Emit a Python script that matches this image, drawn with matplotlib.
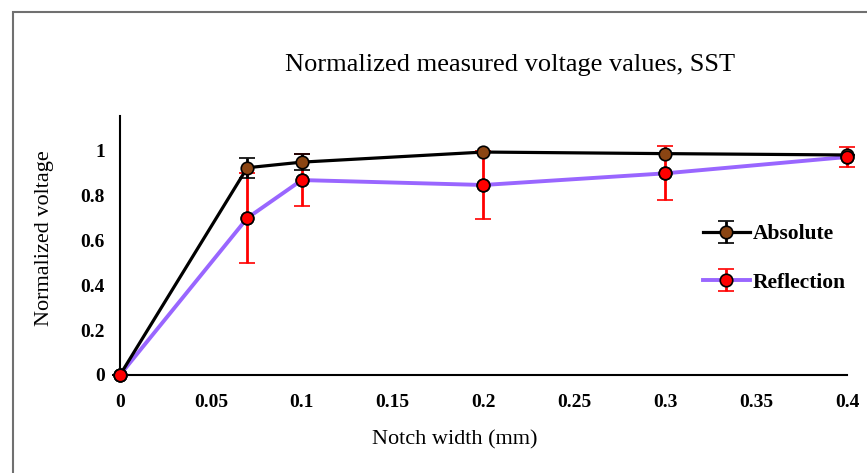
import matplotlib.pyplot as plt
from matplotlib.patches import Rectangle

plt.rcParams['font.family'] = ['Liberation Serif', 'DejaVu Serif']

notch = [0, 0.07, 0.1, 0.2, 0.3, 0.4]
absolute = [0.0, 0.925, 0.95, 0.995, 0.988, 0.982]
absolute_err = [0.0, 0.045, 0.035, 0.0, 0.0, 0.0]
reflection = [0.0, 0.70, 0.87, 0.848, 0.90, 0.973]
reflection_err = [0.0, 0.20, 0.115, 0.15, 0.12, 0.045]

fig = plt.figure(figsize=(8.67, 4.73), dpi=100)
ax = fig.add_axes([0.1384, 0.2072, 0.8385, 0.5476])

ref = ax.errorbar(notch, reflection, yerr=reflection_err, color='#9966ff', lw=2.8,
                  ecolor='red', elinewidth=2, capsize=6, capthick=2,
                  marker='o', ms=9, mfc='red', mec='black', mew=1.2,
                  label='Reflection', zorder=2)
ab = ax.errorbar(notch, absolute, yerr=absolute_err, color='black', lw=2.3,
                 ecolor='black', elinewidth=2, capsize=6, capthick=2,
                 marker='o', ms=9, mfc='#8b4513', mec='black', mew=1.2,
                 label='Absolute', zorder=3)
# reflection markers on top
ax.plot(notch, reflection, 'o', ms=9, mfc='red', mec='black', mew=1.2, zorder=4,
        clip_on=False)
for cont in (ref, ab):
    for art in cont.get_children():
        art.set_clip_on(False)

ax.set_xlim(0, 0.4)
ax.set_ylim(0, 1.156)
ax.set_xticks([0, 0.05, 0.1, 0.15, 0.2, 0.25, 0.3, 0.35, 0.4])
ax.set_xticklabels(['0', '0.05', '0.1', '0.15', '0.2', '0.25', '0.3', '0.35', '0.4'])
ax.set_yticks([0, 0.2, 0.4, 0.6, 0.8, 1.0])
ax.set_yticklabels(['0', '0.2', '0.4', '0.6', '0.8', '1'])
ax.tick_params(length=0, labelsize=14)
ax.tick_params(axis='x', pad=14)
ax.tick_params(axis='y', pad=11)
for lab in ax.get_xticklabels() + ax.get_yticklabels():
    lab.set_fontweight('bold')
for s in ['top', 'right']:
    ax.spines[s].set_visible(False)
for s in ['left', 'bottom']:
    ax.spines[s].set_linewidth(1.5)

fig.text(455 / 867, 1 - 440 / 473, 'Notch width (mm)', fontsize=16,
         ha='center', va='center')
fig.text(45 / 867, 1 - 238 / 473, 'Normalized voltage', fontsize=16,
         ha='center', va='center', rotation=90)
fig.text(510 / 867, 1 - 65 / 473, 'Normalized measured voltage values, SST',
         fontsize=19, ha='center', va='center')

leg = ax.legend([ab, ref], ['Absolute', 'Reflection'], loc='center left',
                bbox_to_anchor=(0.775, 0.45), frameon=False,
                prop={'size': 15.5, 'weight': 'bold'}, labelspacing=1.3,
                handlelength=2.2, handletextpad=0.1)

fig.patches.append(Rectangle((13 / 867, -0.1), 1.2, 1 - 12 / 473 + 0.1,
                             transform=fig.transFigure, fill=False,
                             edgecolor='#707070', lw=1.5, clip_on=False))

fig.savefig('out.png', dpi=100)
